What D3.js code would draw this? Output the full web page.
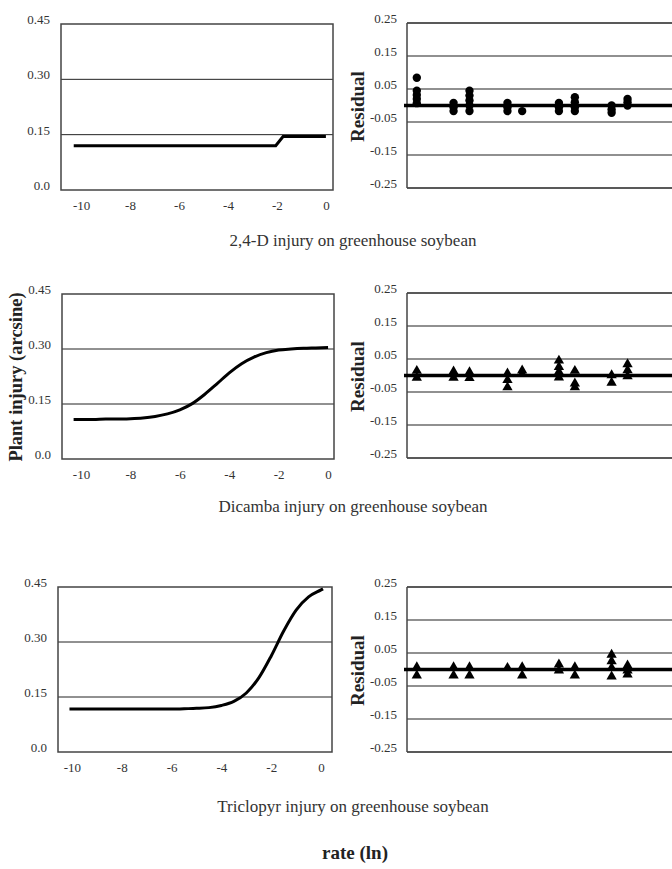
<!DOCTYPE html>
<html>
<head>
<meta charset="utf-8">
<script src="https://cdn.jsdelivr.net/npm/d3@7"></script>
<style>
  body { margin: 0; background: #fff; }
  svg text { font-family: "Liberation Serif", "Times New Roman", serif; fill: #333; }
</style>
</head>
<body>
<div id="chart"></div>
<script>
// tick labels
var rateTicks = [-10, -8, -6, -4, -2, 0]
var injuryTicks = [0, 0.15, 0.30, 0.45]
var injuryLabels = ["0.0", "0.15", "0.30", "0.45"]
var residualTicks = [0.25, 0.15, 0.05, -0.05, -0.15, -0.25]
var residualLabels = ["0.25", "0.15", "0.05", "-0.05", "-0.15", "-0.25"]

var titles = ["2,4-D injury on greenhouse soybean",
              "Dicamba injury on greenhouse soybean",
              "Triclopyr injury on greenhouse soybean"]

// fitted curves (rate in ln, injury in arcsine)
var d24Rate = [-10.3, -2.05, -1.75, 0]
var d24Injury = [0.12, 0.12, 0.145, 0.145]

var dicambaRate = [-10.3, -9.5, -9, -8.5, -8, -7.5, -7, -6.5, -6, -5.5, -5, -4.5, -4, -3.5, -3, -2.5, -2, -1.5, -1, -0.5, 0]
var dicambaInjury = [0.108, 0.108, 0.109, 0.109, 0.110, 0.112, 0.116, 0.123, 0.134, 0.151, 0.176, 0.205, 0.235, 0.260, 0.278, 0.290, 0.297, 0.300, 0.302, 0.303, 0.304]

var triclopyrRate = [-10.1, -9, -8, -7, -6, -5.5, -5, -4.5, -4, -3.5, -3, -2.5, -2, -1.5, -1, -0.5, 0, 0.08]
var triclopyrInjury = [0.117, 0.117, 0.117, 0.117, 0.117, 0.118, 0.119, 0.121, 0.127, 0.138, 0.161, 0.202, 0.262, 0.330, 0.387, 0.423, 0.442, 0.445]

// residuals at each rate
var residualRate = [-10.4, -8.9, -8.25, -6.7, -6.1, -4.6, -3.95, -2.45, -1.8]
var d24Resid = [[0.084, 0.045, 0.032, 0.02, 0.007], [0.008, -0.005, -0.017], [0.045, 0.03, 0.015, 0, -0.017],
                [0.008, -0.005, -0.017], [-0.017], [0.008, -0.005, -0.017], [0.025, 0.01, -0.005, -0.017],
                [0, -0.012, -0.022], [0.02, 0.01, 0]]
var dicambaResid = [[0.014, -0.007], [0.012, -0.007], [0.01, -0.008], [0.006, -0.014, -0.036], [0.015, 0.005],
                    [0.045, 0.026, 0.011, -0.006], [0.014, -0.024, -0.036], [0.001, -0.022], [0.034, 0.016, -0.002]]
var triclopyrResid = [[0.007, -0.018], [0.007, -0.018], [0.007, -0.018], [0.005], [0.007, -0.018],
                      [0.015, -0.003], [0.007, -0.018], [0.045, 0.025, 0.005, -0.021], [0.012, -0.003, -0.015]]

var panels = [
    {rate: d24Rate, injury: d24Injury, resid: d24Resid, marker: d3.symbolCircle, size: 55, smooth: false,
     left: {x0: 61, x1: 333, y0: 24, y1: 190, dom: [-10.82, 0.29]}, right: {y0: 23, y1: 188}, title: 242},
    {rate: dicambaRate, injury: dicambaInjury, resid: dicambaResid, marker: d3.symbolTriangle, size: 46, smooth: true,
     left: {x0: 62, x1: 334, y0: 294, y1: 459, dom: [-10.77, 0.24]}, right: {y0: 293, y1: 458}, title: 508},
    {rate: triclopyrRate, injury: triclopyrInjury, resid: triclopyrResid, marker: d3.symbolTriangle, size: 46, smooth: true,
     left: {x0: 58, x1: 332, y0: 587, y1: 752, dom: [-10.56, 0.44]}, right: {y0: 587, y1: 752}, title: 808}
]

var svg = d3.select("#chart").append("svg")
            .attr("width", 672)
            .attr("height", 869)

panels.forEach((p, i) => {
    var L = p.left
    var x = d3.scaleLinear().domain(L.dom).range([L.x0, L.x1])
    var y = d3.scaleLinear().domain([0, 0.45]).range([L.y1, L.y0])

    var g = svg.append("g")

    // gridlines
    g.selectAll(".grid").data([0.15, 0.30]).enter().append("line")
        .attr("x1", L.x0).attr("x2", L.x1)
        .attr("y1", d => y(d)).attr("y2", d => y(d))
        .attr("stroke", "#222").attr("stroke-width", 1)

    // frame
    g.append("rect")
        .attr("x", L.x0).attr("y", L.y0)
        .attr("width", L.x1 - L.x0).attr("height", L.y1 - L.y0)
        .attr("fill", "none").attr("stroke", "#444").attr("stroke-width", 1.5)

    var yAxis = g.append("g").attr("transform", `translate(${L.x0 - 8},0)`)
        .call(d3.axisLeft(y).tickValues(injuryTicks).tickSize(0)
              .tickFormat((d, k) => injuryLabels[k]))
    yAxis.select(".domain").remove()
    yAxis.selectAll("text").attr("font-size", 13).attr("dy", "-0.05em")
        .style("font-family", "Liberation Serif, serif")

    var xAxis = g.append("g").attr("transform", `translate(0,${L.y1 + 8})`)
        .call(d3.axisBottom(x).tickValues(rateTicks).tickSize(0).tickFormat(d => String(d)))
    xAxis.select(".domain").remove()
    xAxis.selectAll("text").attr("font-size", 13)
        .style("font-family", "Liberation Serif, serif")

    var line = d3.line()
        .x((d, k) => x(p.rate[k]))
        .y(d => y(d))
        .curve(p.smooth ? d3.curveMonotoneX : d3.curveLinear)

    g.append("path").datum(p.injury)
        .attr("d", line)
        .attr("fill", "none").attr("stroke", "#000").attr("stroke-width", 3)

    // residual panel
    var R = p.right
    var rx = d3.scaleLinear().domain([-10.8, 0.3]).range([407, 679])
    var ry = d3.scaleLinear().domain([-0.25, 0.25]).range([R.y1, R.y0])
    var h = svg.append("g")

    h.selectAll(".rgrid").data(residualTicks).enter().append("line")
        .attr("x1", 407).attr("x2", 680)
        .attr("y1", d => ry(d)).attr("y2", d => ry(d))
        .attr("stroke", "#222").attr("stroke-width", d => Math.abs(d) == 0.25 ? 1.5 : 1.2)

    h.append("line")
        .attr("x1", 407).attr("x2", 407)
        .attr("y1", R.y0).attr("y2", R.y1)
        .attr("stroke", "#444").attr("stroke-width", 1.5)

    var ryAxis = h.append("g").attr("transform", "translate(400,0)")
        .call(d3.axisLeft(ry).tickValues(residualTicks).tickSize(0)
              .tickFormat((d, k) => residualLabels[k]))
    ryAxis.select(".domain").remove()
    ryAxis.selectAll("text").attr("font-size", 13).attr("dy", "-0.05em")
        .style("font-family", "Liberation Serif, serif")

    h.append("line")
        .attr("x1", 404).attr("x2", 680)
        .attr("y1", ry(0)).attr("y2", ry(0))
        .attr("stroke", "#000").attr("stroke-width", 3.5)

    var pts = []
    p.resid.forEach((vals, k) => vals.forEach(v => pts.push({rate: residualRate[k], r: v})))

    h.selectAll("path.pt").data(pts).enter().append("path")
        .attr("class", "pt")
        .attr("d", d3.symbol().type(p.marker).size(p.size))
        .attr("transform", d => `translate(${rx(d.rate)},${ry(d.r)})`)
        .attr("fill", "#000")

    h.append("text")
        .attr("transform", `translate(360,${(R.y0 + R.y1) / 2 + 1}) rotate(-90)`)
        .attr("text-anchor", "middle").attr("dominant-baseline", "middle")
        .attr("font-size", 19).attr("font-weight", "bold").style("fill", "#222")
        .text("Residual")

    svg.append("text")
        .attr("x", 353).attr("y", p.title)
        .attr("text-anchor", "middle").attr("dominant-baseline", "middle")
        .attr("font-size", 17)
        .text(titles[i])
})

svg.append("text")
    .attr("transform", "translate(18,377) rotate(-90)")
    .attr("text-anchor", "middle").attr("dominant-baseline", "middle")
    .attr("font-size", 18.5).attr("font-weight", "bold").style("fill", "#222")
    .text("Plant injury (arcsine)")

svg.append("text")
    .attr("x", 355).attr("y", 855)
    .attr("text-anchor", "middle").attr("dominant-baseline", "middle")
    .attr("font-size", 19).attr("font-weight", "bold").style("fill", "#222")
    .text("rate (ln)")
</script>
</body>
</html>
